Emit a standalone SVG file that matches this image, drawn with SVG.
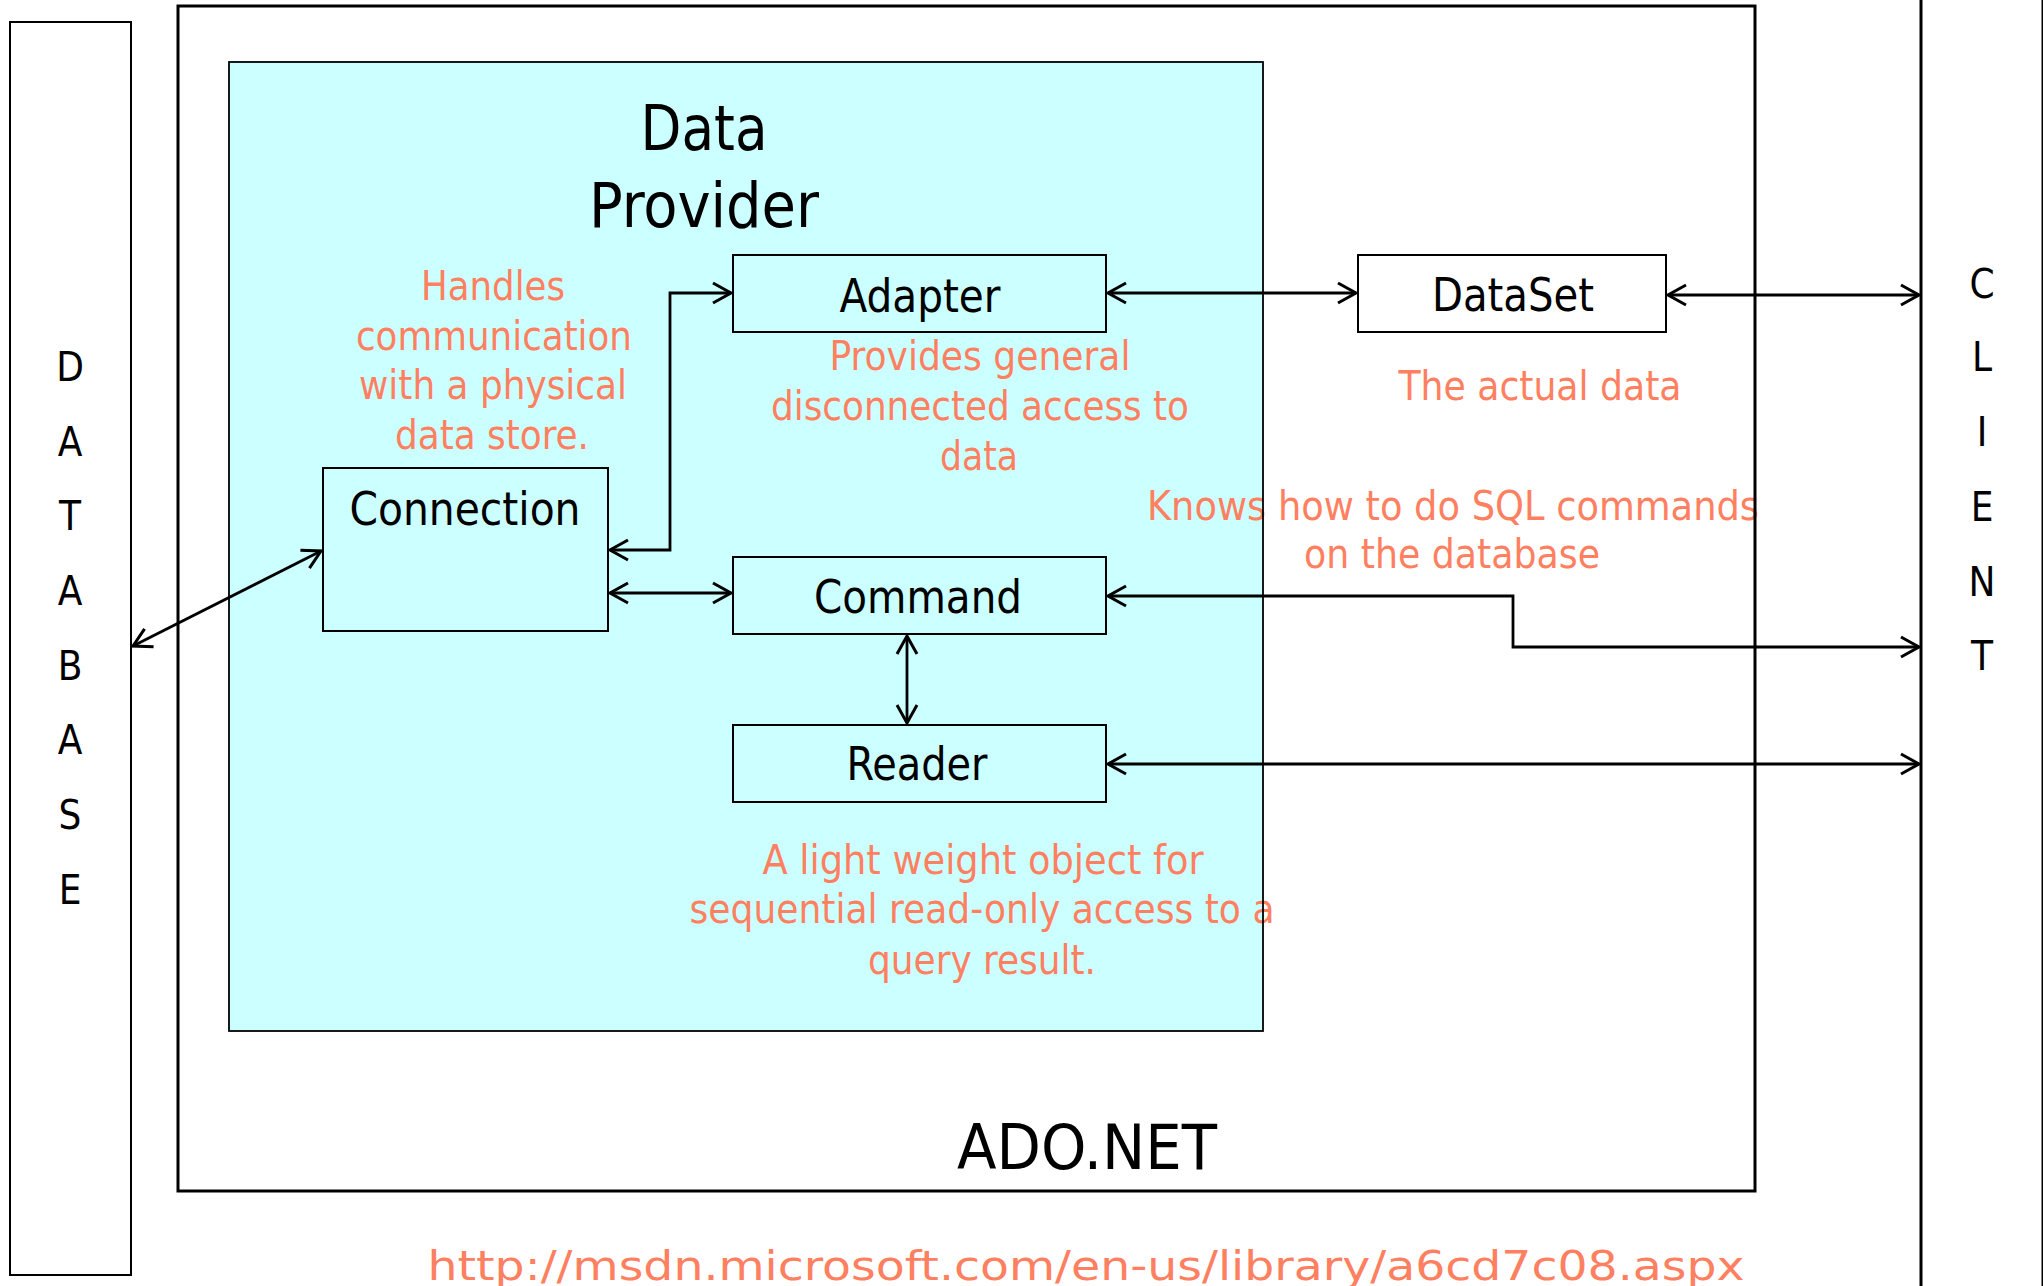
<svg xmlns="http://www.w3.org/2000/svg" width="2043" height="1286" viewBox="0 0 2043 1286">
  <style>
    text { font-family: "DejaVu Sans Condensed", "DejaVu Sans", sans-serif; font-stretch: semi-condensed; text-anchor: middle; }
    .note { fill: #FF8060; font-size: 40px; }
    .label { fill: #000; font-size: 46px; }
    .big { fill: #000; font-size: 62px; }
    .letter { fill: #000; font-size: 40px; }
    .box { fill: #CCFFFF; stroke: #000; stroke-width: 2; }
    .wbox { fill: #FFFFFF; stroke: #000; stroke-width: 2; }
    .conn { fill: none; stroke: #000; stroke-width: 2.8; marker-start: url(#arr); marker-end: url(#arr); }
  </style>
  <defs>
    <marker id="arr" markerUnits="userSpaceOnUse" markerWidth="30" markerHeight="30" refX="19" refY="12" orient="auto-start-reverse" overflow="visible">
      <path d="M1,2 L19,12 L1,22" fill="none" stroke="#000" stroke-width="3"/>
    </marker>
  </defs>
  <rect width="2043" height="1286" fill="#FFFFFF"/>

  <g id="database">
    <rect x="10" y="22" width="121" height="1253" fill="#FFFFFF" stroke="#000" stroke-width="2"/>
    <text class="letter" x="70" y="381">D</text>
    <text class="letter" x="70" y="456">A</text>
    <text class="letter" x="70" y="530">T</text>
    <text class="letter" x="70" y="605">A</text>
    <text class="letter" x="70" y="680">B</text>
    <text class="letter" x="70" y="754">A</text>
    <text class="letter" x="70" y="829">S</text>
    <text class="letter" x="70" y="904">E</text>
  </g>

  <g id="client">
    <rect x="1921" y="-10" width="122" height="1306" fill="#FFFFFF" stroke="#000" stroke-width="3"/>
    <text class="letter" x="1982" y="298">C</text>
    <text class="letter" x="1982" y="371">L</text>
    <text class="letter" x="1982" y="446">I</text>
    <text class="letter" x="1982" y="521">E</text>
    <text class="letter" x="1982" y="596">N</text>
    <text class="letter" x="1982" y="670">T</text>
  </g>

  <g id="adonet">
    <rect x="178" y="6" width="1577" height="1185" fill="#FFFFFF" stroke="none"/>
    <text class="big" x="1087" y="1169" textLength="260" lengthAdjust="spacingAndGlyphs">ADO.NET</text>
  </g>

  <g id="data-provider">
    <rect x="229" y="62" width="1034" height="969" fill="#CCFFFF" stroke="none"/>
    <text class="big" x="704" y="150" textLength="127" lengthAdjust="spacingAndGlyphs">Data</text>
    <text class="big" x="704" y="227" textLength="230" lengthAdjust="spacingAndGlyphs">Provider</text>
  </g>

  <g id="notes">
    <text class="note" x="493" y="300" textLength="144" lengthAdjust="spacingAndGlyphs">Handles</text>
    <text class="note" x="494" y="350" textLength="276" lengthAdjust="spacingAndGlyphs">communication</text>
    <text class="note" x="493" y="399" textLength="268" lengthAdjust="spacingAndGlyphs">with a physical</text>
    <text class="note" x="492" y="449" textLength="194" lengthAdjust="spacingAndGlyphs">data store.</text>

    <text class="note" x="980" y="370" textLength="301" lengthAdjust="spacingAndGlyphs">Provides general</text>
    <text class="note" x="980" y="420" textLength="418" lengthAdjust="spacingAndGlyphs">disconnected access to</text>
    <text class="note" x="979" y="470" textLength="78" lengthAdjust="spacingAndGlyphs">data</text>

    <text class="note" x="1540" y="400" textLength="283" lengthAdjust="spacingAndGlyphs">The actual data</text>

    <text class="note" x="1453" y="520" textLength="612" lengthAdjust="spacingAndGlyphs">Knows how to do SQL commands</text>
    <text class="note" x="1452" y="568" textLength="296" lengthAdjust="spacingAndGlyphs">on the database</text>

    <text class="note" x="983" y="874" textLength="441" lengthAdjust="spacingAndGlyphs">A light weight object for</text>
    <text class="note" x="982" y="923" textLength="585" lengthAdjust="spacingAndGlyphs">sequential read-only access to a</text>
    <text class="note" x="982" y="974" textLength="228" lengthAdjust="spacingAndGlyphs">query result.</text>

    <text class="note" x="1086" y="1280" font-size="55" textLength="1317" lengthAdjust="spacingAndGlyphs">http://msdn.microsoft.com/en-us/library/a6cd7c08.aspx</text>
  </g>

  <g id="outlines">
    <rect x="229" y="62" width="1034" height="969" fill="none" stroke="#000" stroke-width="1.8"/>
    <rect x="178" y="6" width="1577" height="1185" fill="none" stroke="#000" stroke-width="3"/>
  </g>

  <g id="adapter">
    <rect class="box" x="733" y="255" width="373" height="77"/>
    <text class="label" x="920" y="312" textLength="161" lengthAdjust="spacingAndGlyphs">Adapter</text>
  </g>

  <g id="dataset">
    <rect class="wbox" x="1358" y="255" width="308" height="77"/>
    <text class="label" x="1513" y="311" textLength="162" lengthAdjust="spacingAndGlyphs">DataSet</text>
  </g>

  <g id="connection">
    <rect class="box" x="323" y="468" width="285" height="163"/>
    <text class="label" x="465" y="525" textLength="231" lengthAdjust="spacingAndGlyphs">Connection</text>
  </g>

  <g id="command">
    <rect class="box" x="733" y="557" width="373" height="77"/>
    <text class="label" x="918" y="613" textLength="208" lengthAdjust="spacingAndGlyphs">Command</text>
  </g>

  <g id="reader">
    <rect class="box" x="733" y="725" width="373" height="77"/>
    <text class="label" x="917" y="780" textLength="141" lengthAdjust="spacingAndGlyphs">Reader</text>
  </g>

  <g id="connectors">
    <path class="conn" d="M610,550 H670 V293 H731"/>
    <path class="conn" d="M1108,293 H1356"/>
    <path class="conn" d="M1668,295 H1919"/>
    <path class="conn" d="M133,646 L321,551"/>
    <path class="conn" d="M610,593 H731"/>
    <path class="conn" d="M907,636 V723"/>
    <path class="conn" d="M1108,596 H1513 V647 H1919"/>
    <path class="conn" d="M1108,764 H1919"/>
  </g>
</svg>
